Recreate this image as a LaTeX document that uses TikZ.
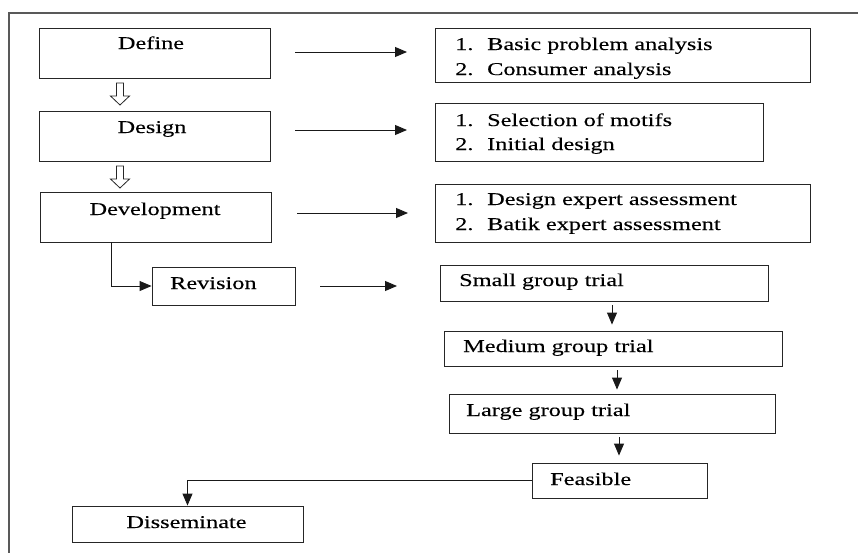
\documentclass[tikz,border=0pt]{standalone}
\usepackage{fontspec}
\setmainfont{Liberation Serif}[FakeStretch=1.35,FakeBold=0.15]
\usetikzlibrary{arrows.meta,calc}
\begin{document}
\begin{tikzpicture}[x=1pt,y=-1pt,
  box/.style={draw=black!85, line width=0.9pt, inner sep=0pt},
  txt/.style={anchor=base west, inner sep=0pt, font=\fontsize{18}{22}\selectfont, text=black},
  ctxt/.style={anchor=base, inner sep=0pt, font=\fontsize{18}{22}\selectfont, text=black},
  arr/.style={line width=0.9pt, draw=black!90, -{Triangle[length=12pt,width=10pt]}},
  hollow/.style={draw=black!85, line width=0.8pt, fill=white}]
\useasboundingbox (0,0) rectangle (858,552);
\draw[line width=1.2pt, black!65] (9,560) -- (9,13) -- (870,13);

% left column boxes
\node[box, minimum width=231pt, minimum height=50pt] (define) at (154.5,53) {};
\node[box, minimum width=231pt, minimum height=50pt] (design) at (154.5,136) {};
\node[box, minimum width=231pt, minimum height=50pt] (development) at (155.5,217) {};
\node[box, minimum width=143pt, minimum height=38pt] (revision) at (223.5,286) {};
\node[box, minimum width=231pt, minimum height=36pt] (dissem) at (187.5,524) {};

% right column boxes
\node[box, minimum width=375pt, minimum height=54pt] (r1) at (622.5,55) {};
\node[box, minimum width=328pt, minimum height=58pt] (r2) at (599,132) {};
\node[box, minimum width=375pt, minimum height=58pt] (r3) at (622.5,213) {};
\node[box, minimum width=328pt, minimum height=36pt] (small) at (604,283) {};
\node[box, minimum width=338pt, minimum height=35pt] (medium) at (613,348.5) {};
\node[box, minimum width=326pt, minimum height=39pt] (large) at (612,413.5) {};
\node[box, minimum width=175pt, minimum height=35pt] (feasible) at (619.5,480.5) {};

% texts
\node[ctxt] (tdefine) at (151,49) {Define};
\node[ctxt] (tdesign) at (152,133) {Design};
\node[ctxt] (tdev) at (155,215) {Development};
\node[txt] (trev) at (170,289) {Revision};
\node[ctxt] (tdis) at (186.5,528) {Disseminate};

\node[txt] (n11) at (455,50) {1.};
\node[txt] (t11) at (487,50) {Basic problem analysis};
\node[txt] (n12) at (455,75) {2.};
\node[txt] (t12) at (487,75) {Consumer analysis};
\node[txt] (n21) at (455,126) {1.};
\node[txt] (t21) at (487,126) {Selection of motifs};
\node[txt] (n22) at (455,150) {2.};
\node[txt] (t22) at (487,150) {Initial design};
\node[txt] (n31) at (455,205) {1.};
\node[txt] (t31) at (487,205) {Design expert assessment};
\node[txt] (n32) at (455,230) {2.};
\node[txt] (t32) at (487,230) {Batik expert assessment};

\node[txt] (tsmall) at (459,286) {Small group trial};
\node[txt] (tmed) at (463,352) {Medium group trial};
\node[txt] (tlarge) at (466,416) {Large group trial};
\node[txt] (tfeas) at (550,485) {Feasible};

% hollow arrows
\draw[hollow] (116.5,83) -- (123.5,83) -- (123.5,96) -- (129.5,96) -- (120,105) -- (110.5,96) -- (116.5,96) -- cycle;
\begin{scope}[shift={(0,83)}]
\draw[hollow] (116.5,83) -- (123.5,83) -- (123.5,96) -- (129.5,96) -- (120,105) -- (110.5,96) -- (116.5,96) -- cycle;
\end{scope}

% right arrows
\coordinate (a1s) at (295,52); \coordinate (a1e) at (407,52);
\coordinate (a2s) at (295,130); \coordinate (a2e) at (407,130);
\coordinate (a3s) at (297,213); \coordinate (a3e) at (408,213);
\coordinate (a4s) at (320,286); \coordinate (a4e) at (397,286);
\draw[arr] (a1s) -- (a1e);
\draw[arr] (a2s) -- (a2e);
\draw[arr] (a3s) -- (a3e);
\draw[arr] (a4s) -- (a4e);

% trial arrows
\draw[arr] ([xshift=8pt,yshift=-4pt]small.south) -- ([xshift=-1pt,yshift=6pt]medium.north);
\draw[arr] ([xshift=4pt,yshift=-4pt]medium.south) -- ([xshift=5pt,yshift=4pt]large.north);
\draw[arr] ([xshift=7pt,yshift=-4pt]large.south) -- ([xshift=-0.5pt,yshift=7pt]feasible.north);

% elbow connectors
\draw[arr] ([xshift=-44.5pt]development.south) |- (revision.west);
\draw[arr] (feasible.west) -| (dissem.north);
\end{tikzpicture}
\end{document}
